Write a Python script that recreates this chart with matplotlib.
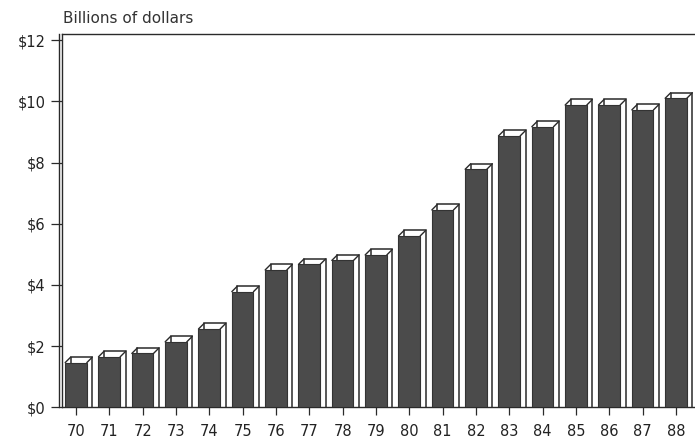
import matplotlib.pyplot as plt
from matplotlib.transforms import ScaledTranslation
from matplotlib.lines import Line2D

# 年份與金額 (十億美元)
years = ['70', '71', '72', '73', '74', '75', '76', '77', '78', '79',
         '80', '81', '82', '83', '84', '85', '86', '87', '88']
values = [1.46, 1.65, 1.76, 2.14, 2.56, 3.78, 4.49, 4.67, 4.80, 4.98,
          5.60, 6.45, 7.78, 8.87, 9.17, 9.88, 9.88, 9.72, 10.10]
yticks = [0, 2, 4, 6, 8, 10, 12]
ylabels = ['$0', '$2', '$4', '$6', '$8', '$10', '$12']

plt.rcParams['font.family'] = ['DejaVu Sans']
ink = '#2a2a2a'

fig = plt.figure(figsize=(6.95, 4.40), dpi=100)
ax = fig.add_axes([0.0892, 0.0743, 0.9108, 0.8484])

x = list(range(len(years)))
w = 0.65
dx, dy = 0.055, 0.055  # 立體效果位移 (inch)
shift = ax.transData + ScaledTranslation(dx, dy, fig.dpi_scale_trans)

# 背後白色立體框
back = ax.bar(x, [v + 1 for v in values], w, bottom=-1, color='white',
              edgecolor=ink, linewidth=1.1, zorder=2)
for p in back:
    p.set_transform(shift)

# 前方深灰色長條
ax.bar(x, values, w, color='#4b4b4b', edgecolor='#333333', linewidth=0.8,
       zorder=3)

# 頂面斜線
for xi, v in zip(x, values):
    for xc in (xi - w / 2, xi + w / 2):
        ax.annotate('', xy=(xc, v), xytext=(dx * 72, dy * 72),
                    textcoords='offset points',
                    arrowprops=dict(arrowstyle='-', lw=1.0, color=ink,
                                    shrinkA=0, shrinkB=0), zorder=4)

ax.set_xlim(-0.42, 18.57)
ax.set_ylim(0, 12.2)
ax.set_xticks(x)
ax.set_xticklabels(years)
ax.set_yticks(yticks)
ax.set_yticklabels(ylabels)

ax.spines['right'].set_visible(False)
for s in ['left', 'top', 'bottom']:
    ax.spines[s].set_color(ink)
    ax.spines[s].set_linewidth(1.0)

# 左側雙線
ax.add_line(Line2D([0, 0], [0, 1], transform=ax.transAxes +
                   ScaledTranslation(-0.03, 0, fig.dpi_scale_trans),
                   color=ink, lw=1.0, clip_on=False))

ax.tick_params(axis='y', length=8, width=0.9, color=ink, pad=4,
               labelsize=10.5, labelcolor='#222222', direction='out')
ax.tick_params(axis='x', length=6, width=0.9, color=ink, pad=6,
               labelsize=10.5, labelcolor='#222222', direction='out')

fig.text(0.09, 0.958, 'Billions of dollars', fontsize=11, color='#333333',
         va='center', ha='left')

fig.savefig('out.png', dpi=100)
